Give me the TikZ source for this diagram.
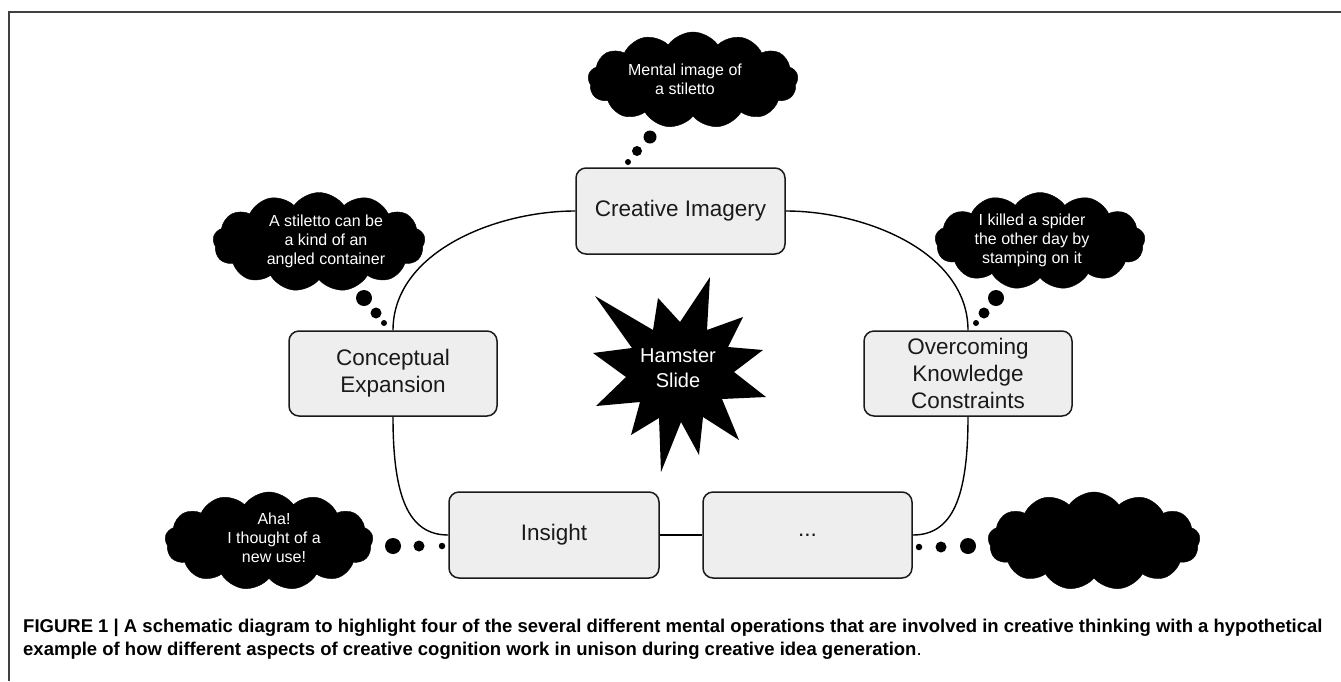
\documentclass[tikz,border=0pt]{standalone}
\usepackage{fontspec}
\setmainfont{Liberation Sans}
\usetikzlibrary{shapes.symbols}
\definecolor{boxfill}{HTML}{EEEEEE}
\definecolor{boxline}{HTML}{1A1A1A}
\definecolor{framecol}{HTML}{404040}
\begin{document}
\begin{tikzpicture}[x=1pt,y=-1pt,
  opbox/.style={draw=boxline, fill=boxfill, line width=1.5pt, rounded corners=10pt, align=center, text=boxline, font=\fontsize{22.5}{27}\selectfont, inner sep=0pt},
  link/.style={draw=black, line width=1.4pt},
  thought/.style={cloud, cloud puffs=13, cloud puff arc=110, cloud ignores aspect, fill=black, draw=black, inner sep=0pt},
  thoughttext/.style={text=white, align=center, font=\fontsize{16}{19}\selectfont, inner sep=0pt},
  bubble/.style={circle, fill=black, inner sep=0pt}]
\useasboundingbox (0,0) rectangle (1341,681);
\fill[white] (0,0) rectangle (1341,681);
% frame
\draw[framecol, line width=1.5pt] (1341,12) -- (9,12) -- (9,681);

% operation boxes
\node[opbox, minimum width=209pt, minimum height=86pt] (ci) at (680.5,211) {Creative Imagery};
\node[opbox, minimum width=208pt, minimum height=85pt] (ce) at (393,373.5) {Conceptual\\Expansion};
\node[opbox, minimum width=208pt, minimum height=85pt] (okc) at (968,373.5) {Overcoming\\Knowledge\\Constraints};
\node[opbox, minimum width=210pt, minimum height=86pt] (ins) at (554,535) {Insight};
\node[opbox, minimum width=209pt, minimum height=86pt] (etc) at (807.5,535) {...};

% connectors
\draw[link] (ci.west) .. controls +(-80,0) and +(0,-78) .. (ce.north);
\draw[link] (ci.east) .. controls +(80,0) and +(0,-78) .. (okc.north);
\draw[link] (ce.south) .. controls +(0,80) and +(-40,0) .. (ins.west);
\draw[link] (ins.east) -- (etc.west);
\draw[link] (etc.east) .. controls +(40,0) and +(0,80) .. (okc.south);

% hamster slide starburst
\fill[black] (710,277) -- (707,330) -- (743,317) -- (728,347) -- (763,350) -- (734,372)
  -- (766,397) -- (722,399) -- (739,440) -- (703,417) -- (699,455) -- (681,422)
  -- (661,472) -- (659,418) -- (631,435) -- (640,402) -- (596,406) -- (626,377)
  -- (593,353) -- (632,348) -- (595,296) -- (653,330) -- (658,298) -- (680,322) -- cycle;
\node[text=white, align=center, font=\fontsize{20}{25}\selectfont, inner sep=0pt] (hs) at (678,368) {Hamster\\Slide};

% thought clouds
\node[thought, minimum width=210pt, minimum height=96pt] (c1) at (693,80) {};
\node[thoughttext] (t1) at (685,79) {Mental image of\\a stiletto};
\node[thought, minimum width=212pt, minimum height=99pt] (c2) at (319,242) {};
\node[thoughttext] (t2) at (326,241) {A stiletto can be\\a kind of an\\angled container};
\node[thought, minimum width=210pt, minimum height=97pt] (c3) at (1040,241) {};
\node[thoughttext] (t3) at (1032,240) {I killed a spider\\the other day by\\stamping on it};
\node[thought, minimum width=208pt, minimum height=98pt] (c4) at (269,541) {};
\node[thoughttext] (t4) at (274,538) {Aha!\\I thought of a\\new use!};
\node[thought, minimum width=212pt, minimum height=98pt] (c5) at (1094,541) {};

% thought bubbles
\node[bubble, minimum size=13pt] (b1a) at (650,137) {};
\node[bubble, minimum size=10pt] (b1b) at (637,151) {};
\node[bubble, minimum size=6pt] (b1c) at (628,162) {};
\node[bubble, minimum size=16pt] (b2a) at (364,298) {};
\node[bubble, minimum size=11pt] (b2b) at (376,313) {};
\node[bubble, minimum size=6pt] (b2c) at (384,323) {};
\node[bubble, minimum size=16pt] (b3a) at (996,298) {};
\node[bubble, minimum size=11pt] (b3b) at (984,313) {};
\node[bubble, minimum size=6pt] (b3c) at (976,323) {};
\node[bubble, minimum size=16pt] (b4a) at (393,546) {};
\node[bubble, minimum size=11pt] (b4b) at (419,546) {};
\node[bubble, minimum size=6.5pt] (b4c) at (442,546) {};
\node[bubble, minimum size=6.5pt] (b5c) at (919,547) {};
\node[bubble, minimum size=11pt] (b5b) at (941,547) {};
\node[bubble, minimum size=16pt] (b5a) at (968,546) {};

% caption
\node[anchor=west, inner sep=0pt, font=\fontsize{18.5}{20}\selectfont\bfseries] (cap1) at (23,628) {FIGURE 1 | A schematic diagram to highlight four of the several different mental operations that are involved in creative thinking with a hypothetical};
\node[anchor=west, inner sep=0pt, font=\fontsize{18.5}{20}\selectfont\bfseries] (cap2) at (23,651) {example of how different aspects of creative cognition work in unison during creative idea generation\mdseries.};
\end{tikzpicture}
\end{document}
